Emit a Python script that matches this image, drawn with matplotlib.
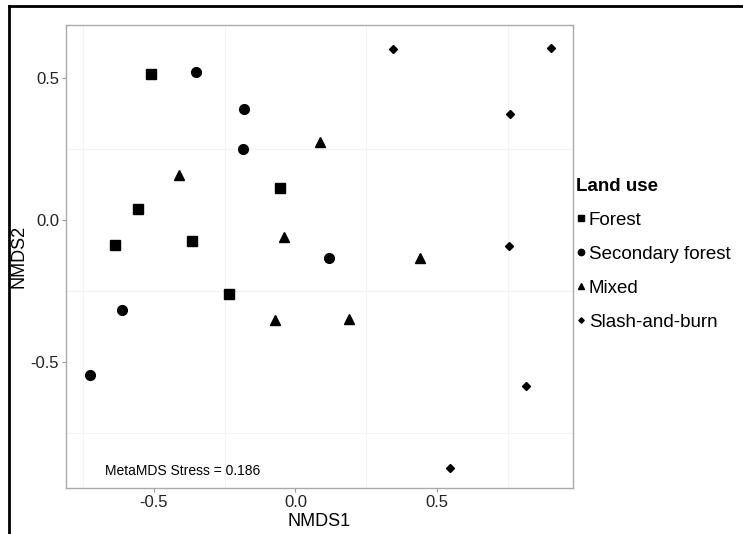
import matplotlib.pyplot as plt
from matplotlib.lines import Line2D

plt.rcParams['font.family'] = ['Liberation Sans', 'DejaVu Sans']

# NMDS scores
forest_x = [-0.512, -0.558, -0.636, -0.365, -0.055, -0.236]
forest_y = [0.513, 0.040, -0.089, -0.074, 0.114, -0.259]
secondary_x = [-0.350, -0.183, -0.186, -0.612, -0.727, 0.120]
secondary_y = [0.522, 0.391, 0.251, -0.318, -0.547, -0.134]
mixed_x = [-0.412, -0.039, 0.088, -0.071, 0.188, 0.442]
mixed_y = [0.160, -0.059, 0.275, -0.351, -0.348, -0.133]
slash_x = [0.344, 0.903, 0.757, 0.755, 0.816, 0.545]
slash_y = [0.602, 0.607, 0.374, -0.090, -0.583, -0.875]

labels = ["Forest", "Secondary forest", "Mixed", "Slash-and-burn"]
ticks = [-0.5, 0.0, 0.5]
tick_labels = ["-0.5", "0.0", "0.5"]
stress_text = "MetaMDS Stress = 0.186"

fig = plt.figure(figsize=(7.43, 5.34), dpi=100)
ax = fig.add_axes([0.0888, 0.0861, 0.6824, 0.8671])

series = [(forest_x, forest_y, "s", 6.5),
          (secondary_x, secondary_y, "o", 7),
          (mixed_x, mixed_y, "^", 7.5),
          (slash_x, slash_y, "D", 4.2)]
for (xs, ys, m, ms), lab in zip(series, labels):
    ax.plot(xs, ys, linestyle="none", marker=m, markersize=ms, color="black", label=lab)

ax.set_xlim(-0.811, 0.981)
ax.set_ylim(-0.944, 0.687)

# faint grid only between the labelled ticks
for g in [-0.75, -0.25, 0.25, 0.75]:
    ax.axvline(g, color="#f3f3f3", lw=0.8, zorder=0)
    ax.axhline(g, color="#f3f3f3", lw=0.8, zorder=0)

ax.set_xticks(ticks)
ax.set_xticklabels(tick_labels)
ax.set_yticks(ticks)
ax.set_yticklabels(tick_labels)
ax.tick_params(length=3, width=0.8, color="#999999", labelsize=12, labelcolor="#222222", pad=2)
for s in ax.spines.values():
    s.set_color("#aaaaaa")
    s.set_linewidth(1)

ax.set_xlabel("NMDS1", fontsize=13, labelpad=2)
ax.set_ylabel("NMDS2", fontsize=13, labelpad=2)

ax.text(-0.40, -0.884, stress_text, fontsize=10, ha="center", va="center")

handles = [Line2D([], [], linestyle="none", marker=m, markersize=ms * 0.65, color="black")
           for (_, _, m, ms) in series]
leg = fig.legend(handles, labels, loc="upper left", bbox_to_anchor=(0.775, 0.667),
                 frameon=False, fontsize=13.5, title="Land use", handlelength=0.6,
                 handletextpad=0.1, labelspacing=0.9, borderpad=0, borderaxespad=0)
leg.get_title().set_fontweight("bold")
leg.get_title().set_fontsize(13.5)
leg._legend_box.align = "left"

# outer frame (top and left edge of the original figure)
fig.add_artist(Line2D([0.012, 1.0], [0.989, 0.989], color="black", lw=2, transform=fig.transFigure))
fig.add_artist(Line2D([0.012, 0.012], [0.0, 0.989], color="black", lw=2, transform=fig.transFigure))

fig.savefig("out.png", dpi=100)
